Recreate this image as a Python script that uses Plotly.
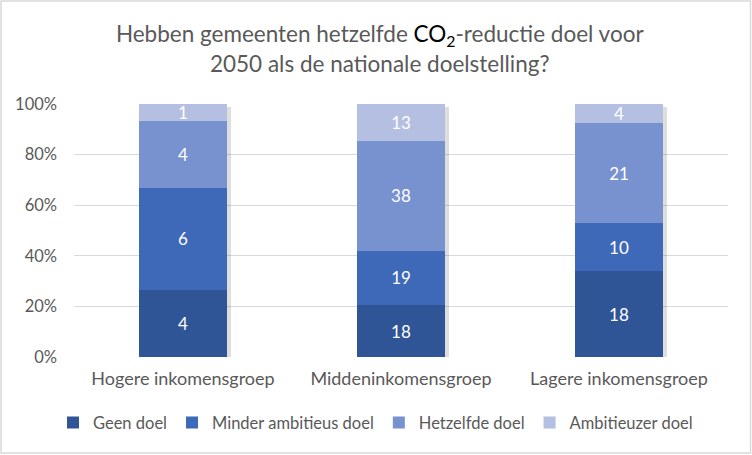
import plotly.graph_objects as go

categories = ["Hogere inkomensgroep", "Middeninkomensgroep", "Lagere inkomensgroep"]
series_names = ["Geen doel", "Minder ambitieus doel", "Hetzelfde doel", "Ambitieuzer doel"]
geen_doel = [4, 18, 18]
minder_ambitieus = [6, 19, 10]
hetzelfde = [4, 38, 21]
ambitieuzer = [1, 13, 4]
tick_vals = [0, 20, 40, 60, 80, 100]
tick_text = ["0%", "20%", "40%", "60%", "80%", "100%"]

colors = ["#2F5597", "#3E69B8", "#7891CF", "#B4BFE2"]
series = [geen_doel, minder_ambitieus, hetzelfde, ambitieuzer]
totals = [sum(v) for v in zip(*series)]

W, H = 752, 455
L, R, T, B = 74, 24, 104, 98
pw, ph = W - L - R, H - T - B
FONT = "Lato"

fig = go.Figure()

# soft shadow on base axes (shifted a few px right/down)
fig.add_trace(go.Bar(
    x=categories, y=totals, xaxis="x", yaxis="y", width=0.40,
    marker=dict(color="rgba(0,0,0,0.13)", line=dict(width=0)),
    showlegend=False, hoverinfo="skip",
))

for name, vals, col in zip(series_names, series, colors):
    fig.add_trace(go.Bar(
        x=categories, y=vals, name=name, xaxis="x2", yaxis="y2",
        width=0.40, marker=dict(color=col, line=dict(width=0)),
        text=[str(v) for v in vals], textposition="inside",
        insidetextanchor="middle", textangle=0, constraintext="none",
        textfont=dict(color="white", size=17, family=FONT),
    ))

dx = 4 / pw * 3
dy = 3 / ph * 100
fig.update_layout(
    width=W, height=H,
    margin=dict(l=L, r=R, t=T, b=B, autoexpand=False),
    paper_bgcolor="white", plot_bgcolor="white",
    barmode="stack", barnorm="percent",
    font=dict(family=FONT, color="#595959", size=16),
    title=dict(
        text="Hebben gemeenten hetzelfde <span style='color:#000000'>CO<sub>2</sub></span>-reductie doel voor<br>2050 als de nationale doelstelling?",
        x=0.505, xanchor="center", xref="container",
        y=0.907, yanchor="middle", yref="container",
        font=dict(size=22.5, color="#595959", family=FONT),
    ),
    xaxis=dict(type="category", range=[-0.5 - dx, 2.5 - dx], showgrid=False,
               showticklabels=False, showline=False, zeroline=False, fixedrange=True),
    yaxis=dict(range=[0 + dy, 100 + dy], showgrid=False, showticklabels=False,
               zeroline=False, showline=False),
    xaxis2=dict(type="category", overlaying="x", range=[-0.5, 2.5], showgrid=False,
                showline=False, ticks="", ticklabelstandoff=9,
                tickfont=dict(size=18, color="#595959")),
    yaxis2=dict(overlaying="y", range=[0, 100], tickvals=tick_vals, ticktext=tick_text,
                showgrid=True, gridcolor="#D9D9D9", gridwidth=1.3, zeroline=False,
                showline=False, ticks="", ticklen=0, ticklabelstandoff=16,
                tickfont=dict(size=16.5, color="#595959")),
    legend=dict(orientation="h", x=0.461, xanchor="center", y=-0.26, yanchor="middle",
                font=dict(size=16.5, color="#595959"), traceorder="normal",
                itemclick=False),
    shapes=[dict(type="rect", xref="paper", yref="paper",
                 x0=(1 - L) / pw, x1=(W - 1.5 - L) / pw,
                 y0=-(H - 2 - T - ph) / ph,
                 y1=(ph + T - 1) / ph,
                 line=dict(color="#D9D9D9", width=1.5), layer="below")],
)

fig.write_html("out.html", config={"displayModeBar": False},
               post_script="document.body.style.margin='0px';")
